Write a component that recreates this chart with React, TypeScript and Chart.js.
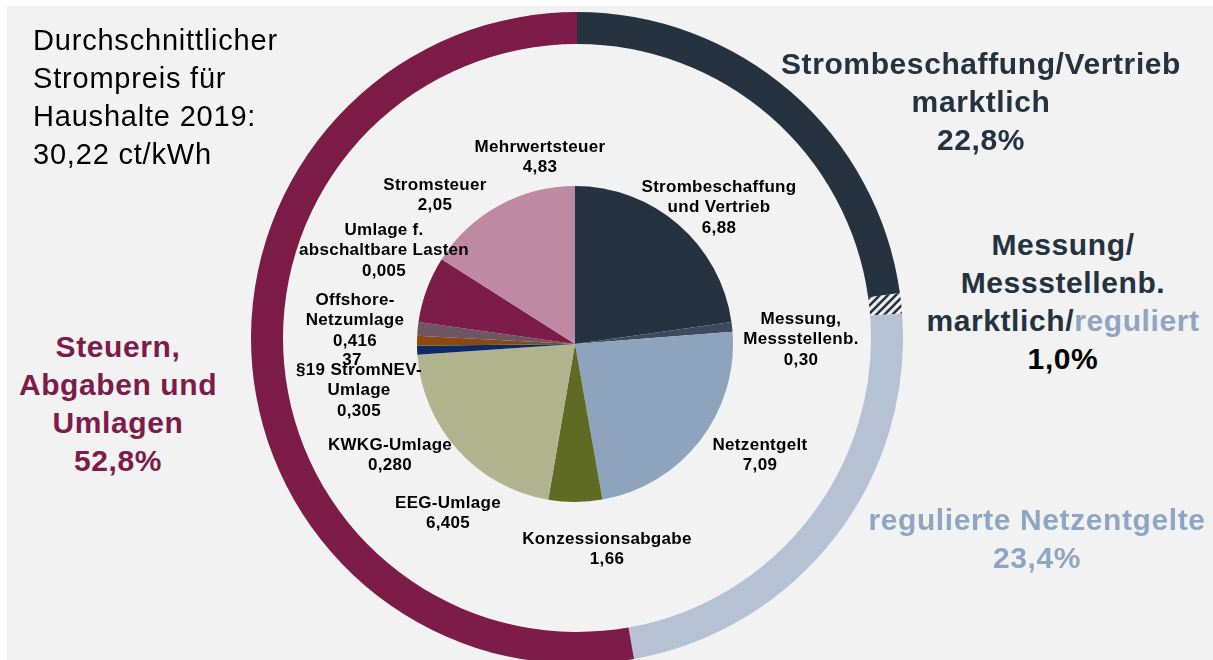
import React, { useEffect, useRef } from "react";
import { Chart, registerables } from "chart.js";
Chart.register(...registerables);

// ---- data ----
const categories = [
  "Strombeschaffung und Vertrieb",
  "Messung, Messstellenb.",
  "Netzentgelt",
  "Konzessionsabgabe",
  "EEG-Umlage",
  "KWKG-Umlage",
  "§19 StromNEV-Umlage",
  "Offshore-Netzumlage",
  "Umlage f. abschaltbare Lasten",
  "Stromsteuer",
  "Mehrwertsteuer",
];
const labelLines = [
  ["Strombeschaffung", "und Vertrieb"],
  ["Messung,", "Messstellenb."],
  ["Netzentgelt"],
  ["Konzessionsabgabe"],
  ["EEG-Umlage"],
  ["KWKG-Umlage"],
  ["§19 StromNEV-", "Umlage"],
  ["Offshore-", "Netzumlage"],
  ["Umlage f.", "abschaltbare Lasten"],
  ["Stromsteuer"],
  ["Mehrwertsteuer"],
];
const values = [6.88, 0.3, 7.09, 1.66, 6.405, 0.28, 0.305, 0.416, 0.005, 2.05, 4.83];
const valueDecimals = [2, 2, 2, 2, 3, 3, 3, 3, 3, 2, 2];

const groupNames = [
  "Strombeschaffung/Vertrieb marktlich",
  "Messung/Messstellenb. marktlich/reguliert",
  "regulierte Netzentgelte",
  "Steuern, Abgaben und Umlagen",
];
const groupShares = [22.8, 1.0, 23.4, 52.8];

const titleLines = ["Durchschnittlicher", "Strompreis für", "Haushalte 2019:", "30,22 ct/kWh"];

// ---- styles / layout ----
const sliceColors = [
  "#253240", "#3d4b5f", "#8ea3bc", "#5f6a22", "#b0b48e",
  "#0b2a66", "#8a4a12", "#6e5662", "#7d1b49", "#7d1b49", "#be8aa3",
];
const NAVY = "#253240";
const LIGHTBLUE = "#b4c2d4";
const MAROON = "#7d1b49";
const LABELBLUE = "#8fa6c2";
const BG = "#f2f2f2";

const labelPos = [
  [719, 187], [801, 319], [760, 445], [607, 539], [448, 503], [390, 445],
  [359, 370], [355, 300], [384, 230], [435, 185], [540, 147],
];

const fmt = (v: number, d: number) => v.toFixed(d).replace(".", ",");
const fmtPct = (v: number) => v.toFixed(1).replace(".", ",") + "%";

function makeHatch(): CanvasPattern | string {
  const c = document.createElement("canvas");
  c.width = 8;
  c.height = 8;
  const g = c.getContext("2d");
  if (!g) return NAVY;
  g.fillStyle = BG;
  g.fillRect(0, 0, 8, 8);
  g.strokeStyle = NAVY;
  g.lineWidth = 2.6;
  g.beginPath();
  g.moveTo(-2, 10); g.lineTo(10, -2);
  g.moveTo(-6, 6); g.lineTo(6, -6);
  g.moveTo(2, 14); g.lineTo(14, 2);
  g.stroke();
  const p = g.createPattern(c, "repeat");
  return p || NAVY;
}

const RING_CX = 577, RING_CY = 338, RING_R = 326, RING_IN = 294;
const PIE_CX = 575, PIE_CY = 344, PIE_R = 158;

export default function App() {
  const ringRef = useRef<HTMLCanvasElement>(null);
  const pieRef = useRef<HTMLCanvasElement>(null);

  useEffect(() => {
    const ring = new Chart(ringRef.current!, {
      type: "doughnut",
      data: {
        labels: groupNames,
        datasets: [{
          data: groupShares,
          backgroundColor: [NAVY, makeHatch() as any, LIGHTBLUE, MAROON],
          borderWidth: 0,
        }],
      },
      options: {
        responsive: false,
        animation: false,
        cutout: (RING_IN / RING_R) * 100 + "%",
        events: [],
        plugins: { legend: { display: false }, tooltip: { enabled: false } },
      },
    });
    const pie = new Chart(pieRef.current!, {
      type: "pie",
      data: {
        labels: categories,
        datasets: [{ data: values, backgroundColor: sliceColors, borderWidth: 0 }],
      },
      options: {
        responsive: false,
        animation: false,
        events: [],
        plugins: { legend: { display: false }, tooltip: { enabled: false } },
      },
    });
    return () => {
      ring.destroy();
      pie.destroy();
    };
  }, []);

  const sans = "'Liberation Sans', Arial, sans-serif";
  const pieFont: React.CSSProperties = {
    fontFamily: sans, fontWeight: "bold", fontSize: 17, letterSpacing: "0.3px", color: "#000",
  };
  const bigFont: React.CSSProperties = {
    fontFamily: sans, fontWeight: "bold", fontSize: 30, letterSpacing: "0.6px",
  };
  const LH = 20.5;
  const BLH = 38;

  const block = (key: string, cx: number, cy0: number, lines: React.ReactNode[], style: React.CSSProperties, lh: number) => (
    <div key={key} style={{
      position: "absolute", left: cx, top: cy0 - lh / 2, transform: "translateX(-50%)",
      textAlign: "center", whiteSpace: "nowrap", lineHeight: lh + "px", ...style,
    }}>
      {lines.map((l, i) => <div key={i}>{l}</div>)}
    </div>
  );

  return (
    <div style={{ position: "absolute", left: 0, top: 0, width: 1213, height: 660, overflow: "hidden", background: "#fff" }}>
      <div style={{ position: "absolute", left: 7, top: 6, right: 0, bottom: 0, background: BG }} />
      <canvas ref={ringRef} width={RING_R * 2} height={RING_R * 2}
        style={{ position: "absolute", left: RING_CX - RING_R, top: RING_CY - RING_R, width: RING_R * 2, height: RING_R * 2 }} />
      <canvas ref={pieRef} width={PIE_R * 2} height={PIE_R * 2}
        style={{ position: "absolute", left: PIE_CX - PIE_R, top: PIE_CY - PIE_R, width: PIE_R * 2, height: PIE_R * 2 }} />

      {/* title */}
      <div style={{ position: "absolute", left: 33, top: 40 - 19, fontFamily: sans, fontSize: 29, letterSpacing: "0.8px", lineHeight: "38px", color: "#000", whiteSpace: "nowrap" }}>
        {titleLines.map((l, i) => <div key={i}>{l}</div>)}
      </div>

      {/* stray label */}
      {block("stray", 352, 360, ["37"], pieFont, LH)}

      {/* pie labels */}
      {labelLines.map((lines, i) =>
        block("l" + i, labelPos[i][0], labelPos[i][1], [...lines, fmt(values[i], valueDecimals[i])], pieFont, LH)
      )}

      {/* group labels */}
      {block("g0", 981, 64, ["Strombeschaffung/Vertrieb", "marktlich", fmtPct(groupShares[0])], { ...bigFont, color: NAVY }, BLH)}
      {block("g1", 1063, 245, [
        "Messung/", "Messstellenb.",
        <span>marktlich/<span style={{ color: LABELBLUE }}>reguliert</span></span>,
        <span style={{ color: "#000" }}>{fmtPct(groupShares[1])}</span>,
      ], { ...bigFont, color: NAVY }, BLH)}
      {block("g2", 1037, 520, ["regulierte Netzentgelte", fmtPct(groupShares[2])], { ...bigFont, color: LABELBLUE }, BLH)}
      {block("g3", 118, 347, ["Steuern,", "Abgaben und", "Umlagen", fmtPct(groupShares[3])], { ...bigFont, color: MAROON }, BLH)}
    </div>
  );
}
